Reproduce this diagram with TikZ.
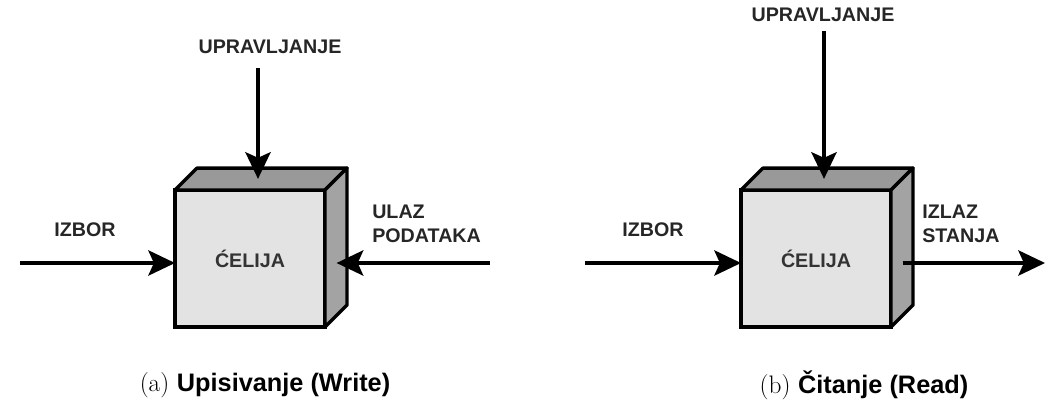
\documentclass[tikz,border=0pt]{standalone}
\usepackage{fontspec}
\newfontfamily\lblfont{Liberation Sans}
\usetikzlibrary{arrows.meta,calc}
\definecolor{cellface}{gray}{.89}
\definecolor{celltop}{gray}{.6}
\definecolor{cellside}{gray}{.64}
\tikzset{
  cell/.style={draw,line width=2.4pt,outer sep=0,fill=cellface,minimum width=3.75cm,minimum height=3.425cm,
    font=\lblfont\bfseries\fontsize{14}{16}\selectfont,text=black!80},
  face/.style={draw,line width=2.4pt,line join=round},
  lbl/.style={font=\lblfont\bfseries\fontsize{14}{17}\selectfont,text=black!85,align=left,inner sep=0},
  flow/.style={line width=2.4pt,-{Stealth[length=19pt,width=18pt,inset=4pt]}},
  capt/.style={font=\fontsize{18}{20}\selectfont}
}
\begin{document}
\begin{tikzpicture}
\useasboundingbox(0,0)rectangle(26.525,10.325);
%(a) write
\node[cell](celA)at(6.25,3.86){ĆELIJA};
\draw[face,fill=celltop](celA.north west)--++(.55,.55)--++(3.75,0)--(celA.north east)--cycle;
\draw[face,fill=cellside](celA.north east)--++(.55,.55)--++(0,-3.425)--(celA.south east)--cycle;
\coordinate(izA)at(.5,3.75);
\draw[flow](izA)--(izA-|celA.west);
\node[lbl](izAlbl)at(2.125,4.575){IZBOR};
\node[lbl](ctlA)at(6.75,9.15){UPRAVLJANJE};
\coordinate(topA)at($(celA.north)+(.2,.28)$);
\draw[flow]($(ctlA.south-|topA)+(0,-.35)$)--(topA);
\coordinate(udA)at(12.25,3.75);
\coordinate(sideA)at($(celA.east)+(.29,0)$);
\draw[flow](udA)--(udA-|sideA);
\node[lbl,anchor=west](udAlbl)at(9.3,4.725){ULAZ\\PODATAKA};
\node[capt](captA)at(6.625,.7){(a) {\lblfont\bfseries Upisivanje (Write)}};
%(b) read
\node[cell](celB)at(20.4,3.86){ĆELIJA};
\draw[face,fill=celltop](celB.north west)--++(.55,.55)--++(3.75,0)--(celB.north east)--cycle;
\draw[face,fill=cellside](celB.north east)--++(.55,.55)--++(0,-3.425)--(celB.south east)--cycle;
\coordinate(izB)at(14.625,3.75);
\draw[flow](izB)--(izB-|celB.west);
\node[lbl](izBlbl)at(16.325,4.575){IZBOR};
\node[lbl](ctlB)at(20.575,9.95){UPRAVLJANJE};
\coordinate(topB)at($(celB.north)+(.2,.28)$);
\draw[flow]($(ctlB.south-|topB)+(0,-.22)$)--(topB);
\coordinate(outB)at(26.125,3.75);
\coordinate(sideB)at($(celB.east)+(.29,0)$);
\draw[flow](sideB|-outB)--(outB);
\node[lbl,anchor=west](stBlbl)at(23.05,4.725){IZLAZ\\STANJA};
\node[capt](captB)at(21.6,.7){(b) {\lblfont\bfseries Čitanje (Read)}};
\end{tikzpicture}
\end{document}
